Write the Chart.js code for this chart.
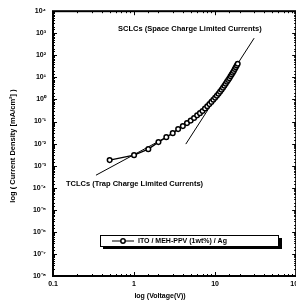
<!DOCTYPE html>
<html>
<head>
<meta charset="utf-8">
<script src="https://cdn.jsdelivr.net/npm/chart.js@4.4.1/dist/chart.umd.min.js"></script>
<style>
  html, body { margin: 0; padding: 0; background: #fff; overflow: hidden; }
  #wrap { width: 306px; height: 307px; }
</style>
</head>
<body>
<div id="wrap"><canvas id="chart" width="306" height="307"></canvas></div>
<script>
const voltage = [0.5, 1.0, 1.5, 2.0, 2.5, 3.0, 3.5, 4.0, 4.5, 5.0, 5.5, 6.0, 6.5, 7.0, 7.5,
  8.0, 8.5, 9.0, 9.5, 10.0, 10.5, 11.0, 11.5, 12.0, 12.5, 13.0, 13.5, 14.0, 14.5, 15.0,
  15.5, 16.0, 16.5, 17.0, 17.5, 18.0, 18.5, 19.0];
const currentDensity = [0.00179, 0.0030, 0.0056, 0.0117, 0.0196, 0.0298, 0.0453, 0.062, 0.085,
  0.110, 0.145, 0.191, 0.240, 0.302, 0.389, 0.490, 0.617, 0.776, 0.977, 1.20, 1.48, 1.82,
  2.24, 2.75, 3.39, 4.17, 5.13, 6.31, 7.59, 9.12, 11.2, 13.5, 16.2, 19.5, 24.0, 28.8, 34.7, 41.7];

// fitted straight lines
const tclcFitV = [0.339, 2.5];
const tclcFitJ = [0.00037, 0.0195];
const sclcFitV = [4.35, 30.3];
const sclcFitJ = [0.0095, 600];

const xTickLabels = ['0.1', '1', '10', '100'];
const seriesLabel = 'ITO / MEH-PPV (1wt%) / Ag';
const sclcText = 'SCLCs (Space Charge Limited Currents)';
const tclcText = 'TCLCs (Trap Charge Limited Currents)';

const FONT = '"Liberation Sans", Arial, sans-serif';
const SUP = { '-': '\u207B', '0': '\u2070', '1': '\u00B9', '2': '\u00B2', '3': '\u00B3', '4': '\u2074',
  '5': '\u2075', '6': '\u2076', '7': '\u2077', '8': '\u2078', '9': '\u2079' };

const isDecade = v => {
  const e = Math.log10(v);
  return Math.abs(e - Math.round(e)) < 1e-6;
};
const toPoints = (xs, ys) => xs.map((x, i) => ({ x: x, y: ys[i] }));

// inward ticks, frame, annotations, legend box and axis titles
const decorPlugin = {
  id: 'decor',
  afterDraw(chart) {
    const ctx = chart.ctx;
    const a = chart.chartArea;
    const xs = chart.scales.x, ys = chart.scales.y;
    ctx.save();
    ctx.strokeStyle = '#000';
    ctx.lineWidth = 1;
    xs.ticks.forEach(t => {
      const px = Math.round(xs.getPixelForValue(t.value)) + 0.5;
      const len = isDecade(t.value) ? 4 : 2;
      ctx.beginPath();
      ctx.moveTo(px, a.bottom); ctx.lineTo(px, a.bottom - len);
      ctx.moveTo(px, a.top); ctx.lineTo(px, a.top + len);
      ctx.stroke();
    });
    ys.ticks.forEach(t => {
      const py = Math.round(ys.getPixelForValue(t.value)) + 0.5;
      const len = isDecade(t.value) ? 4 : 2;
      ctx.beginPath();
      ctx.moveTo(a.left, py); ctx.lineTo(a.left + len, py);
      ctx.moveTo(a.right, py); ctx.lineTo(a.right - len, py);
      ctx.stroke();
    });
    ctx.lineWidth = 2;
    ctx.strokeRect(a.left, a.top, a.right - a.left, a.bottom - a.top);

    ctx.fillStyle = '#000';
    ctx.textBaseline = 'middle';
    ctx.font = 'bold 7.5px ' + FONT;
    ctx.textAlign = 'left';
    ctx.fillText(sclcText, 118, 29);
    ctx.fillText(tclcText, 66, 184);

    // legend with drop shadow
    ctx.fillRect(279, 238, 3, 11);
    ctx.fillRect(103, 246, 179, 3);
    ctx.fillStyle = '#fff';
    ctx.fillRect(100, 235, 179, 11);
    ctx.lineWidth = 1;
    ctx.strokeRect(100.5, 235.5, 178, 11);
    ctx.beginPath();
    ctx.moveTo(112, 241); ctx.lineTo(134, 241);
    ctx.stroke();
    ctx.beginPath();
    ctx.lineWidth = 1.5;
    ctx.arc(123, 241, 2.2, 0, Math.PI * 2);
    ctx.fillStyle = '#fff';
    ctx.fill();
    ctx.stroke();
    ctx.fillStyle = '#000';
    ctx.font = 'bold 7px ' + FONT;
    ctx.fillText(chart.data.datasets[0].label, 138, 241);

    // axis titles
    ctx.font = 'bold 7px ' + FONT;
    ctx.textAlign = 'center';
    ctx.fillText('log (Voltage(V))', 160, 296);
    ctx.font = 'bold 7.5px ' + FONT;
    ctx.translate(13, 146);
    ctx.rotate(-Math.PI / 2);
    ctx.fillText('log ( Current Density [mA/cm\u00B2] )', 0, 0);
    ctx.restore();
  }
};

new Chart(document.getElementById('chart').getContext('2d'), {
  type: 'line',
  data: {
    datasets: [
      {
        label: seriesLabel,
        data: toPoints(voltage, currentDensity),
        borderColor: '#000',
        borderWidth: 1.3,
        pointRadius: 2.3,
        pointBorderWidth: 1.5,
        pointBackgroundColor: '#fff',
        pointBorderColor: '#000',
        tension: 0
      },
      {
        label: 'TCLC fit',
        data: toPoints(tclcFitV, tclcFitJ),
        borderColor: '#000',
        borderWidth: 1,
        pointRadius: 0
      },
      {
        label: 'SCLC fit',
        data: toPoints(sclcFitV, sclcFitJ),
        borderColor: '#000',
        borderWidth: 1,
        pointRadius: 0
      }
    ]
  },
  options: {
    responsive: false,
    animation: false,
    devicePixelRatio: 1,
    layout: { padding: { top: 10, right: 5, left: 0, bottom: 0 } },
    plugins: { legend: { display: false }, tooltip: { enabled: false } },
    scales: {
      x: {
        type: 'logarithmic',
        min: 0.1,
        max: 100,
        grid: { display: false, drawTicks: false },
        border: { display: false },
        afterFit: s => { s.height = 31; },
        ticks: {
          autoSkip: false,
          maxRotation: 0,
          padding: 4,
          color: '#000',
          font: { family: FONT, size: 7, weight: 'bold' },
          callback: v => {
            if (!isDecade(v)) return '';
            return xTickLabels[Math.round(Math.log10(v)) + 1];
          }
        }
      },
      y: {
        type: 'logarithmic',
        min: 1e-8,
        max: 1e4,
        grid: { display: false, drawTicks: false },
        border: { display: false },
        afterFit: s => { s.width = 53; },
        ticks: {
          autoSkip: false,
          padding: 7,
          color: '#000',
          font: { family: FONT, size: 7, weight: 'bold' },
          callback: v => {
            if (!isDecade(v)) return '';
            const e = String(Math.round(Math.log10(v)));
            return '10' + e.split('').map(c => SUP[c]).join('');
          }
        }
      }
    }
  },
  plugins: [decorPlugin]
});
</script>
</body>
</html>
